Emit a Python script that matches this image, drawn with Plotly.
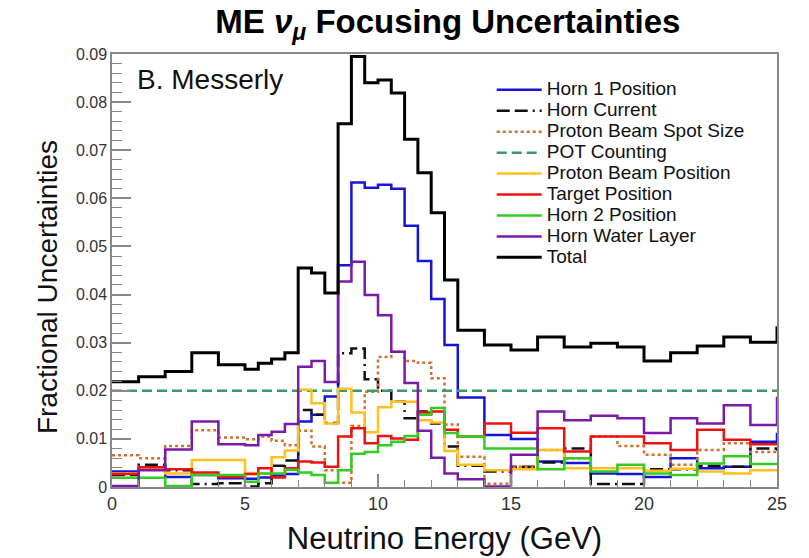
import plotly.graph_objects as go

# bin edges (GeV); last bin (25-26) lies beyond the visible range
edges = [0, 1, 2, 3, 4, 5, 5.5, 6, 6.5, 7, 7.5, 8, 8.5, 9, 9.5, 10, 10.5, 11, 11.5,
         12, 12.5, 13, 14, 15, 16, 17, 18, 19, 20, 21, 22, 23, 24, 25, 26]

horn1_position = [0.0032, 0.0040, 0.0021, 0.0025, 0.0018, 0.0017, 0.0020, 0.0024, 0.0027,
                  0.0136, 0.0150, 0.0188, 0.0461, 0.0633, 0.0622, 0.0628, 0.0620, 0.0543,
                  0.0470, 0.0391, 0.0295, 0.0186, 0.0108, 0.0100, 0.0053, 0.0050, 0.0028,
                  0.0027, 0.0021, 0.0060, 0.0039, 0.0042, 0.0094, 0.0110]
horn_current = [0.0025, 0.0046, 0.0035, 0.0006, 0.0008, 0.0001, 0.0008, 0.0044, 0.0055,
                0.0160, 0.0150, 0.0133, 0.0278, 0.0288, 0.0224, 0.0200, 0.0177, 0.0143,
                0.0157, 0.0132, 0.0084, 0.0044, 0.0032, 0.0042, 0.0051, 0.0080, 0.0006,
                0.0006, 0.0037, 0.0037, 0.0044, 0.0042, 0.0080, 0.0078]
spot_size = [0.0066, 0.0060, 0.0085, 0.0118, 0.0103, 0.0099, 0.0105, 0.0096, 0.0087,
             0.0117, 0.0084, 0.0035, 0.0009, 0.0127, 0.0198, 0.0270, 0.0281, 0.0262,
             0.0258, 0.0226, 0.0130, 0.0063, 0.0007, 0.0042, 0.0077, 0.0060, 0.0105,
             0.0085, 0.0067, 0.0046, 0.0077, 0.0091, 0.0073, 0.0073]
pot_counting = [0.0200] * 34
beam_position = [0.0028, 0.0040, 0.0028, 0.0056, 0.0056, 0.0029, 0.0028, 0.0062, 0.0076,
                 0.0202, 0.0174, 0.0132, 0.0204, 0.0155, 0.0114, 0.0166, 0.0177, 0.0177,
                 0.0139, 0.0134, 0.0075, 0.0046, 0.0035, 0.0037, 0.0077, 0.0039, 0.0039,
                 0.0039, 0.0034, 0.0038, 0.0032, 0.0028, 0.0035, 0.0035]
target_position = [0.0027, 0.0041, 0.0037, 0.0030, 0.0021, 0.0027, 0.0039, 0.0020, 0.0039,
                   0.0053, 0.0051, 0.0042, 0.0105, 0.0122, 0.0091, 0.0106, 0.0101, 0.0098,
                   0.0155, 0.0157, 0.0119, 0.0105, 0.0132, 0.0113, 0.0122, 0.0074, 0.0105,
                   0.0105, 0.0091, 0.0077, 0.0119, 0.0098, 0.0089, 0.0089]
horn2_position = [0.0019, 0.0019, 0.0002, 0.0025, 0.0025, 0.0011, 0.0028, 0.0028, 0.0036,
                  0.0030, 0.0025, 0.0009, 0.0035, 0.0069, 0.0073, 0.0087, 0.0094, 0.0106,
                  0.0150, 0.0164, 0.0112, 0.0105, 0.0080, 0.0080, 0.0037, 0.0060, 0.0032,
                  0.0046, 0.0028, 0.0025, 0.0049, 0.0064, 0.0048, 0.0048]
water_layer = [0.0002, 0.0035, 0.0078, 0.0136, 0.0089, 0.0087, 0.0108, 0.0115, 0.0131,
               0.0250, 0.0262, 0.0218, 0.0427, 0.0468, 0.0399, 0.0357, 0.0281, 0.0216,
               0.0117, 0.0061, 0.0028, 0.0016, 0.0001, 0.0067, 0.0157, 0.0139, 0.0148,
               0.0143, 0.0112, 0.0143, 0.0132, 0.0170, 0.0129, 0.0185]
total = [0.0219, 0.0229, 0.0240, 0.0279, 0.0254, 0.0245, 0.0257, 0.0266, 0.0279,
         0.0455, 0.0445, 0.0403, 0.0755, 0.0895, 0.0840, 0.0846, 0.0819, 0.0723,
         0.0653, 0.0570, 0.0430, 0.0326, 0.0295, 0.0285, 0.0312, 0.0291, 0.0299,
         0.0291, 0.0262, 0.0279, 0.0293, 0.0312, 0.0301, 0.0331]

series = [
    ("Horn 1 Position", horn1_position, "#1515d8", "solid", 2.5),
    ("Horn Current", horn_current, "#111111", "13px,5px,13px,5px,2px,5px", 2.5),
    ("Proton Beam Spot Size", spot_size, "#d07030", "dot", 2.5),
    ("POT Counting", pot_counting, "#3a9a6a", "10px,5px", 2.5),
    ("Proton Beam Position", beam_position, "#ffc020", "solid", 2.5),
    ("Target Position", target_position, "#ee1111", "solid", 2.5),
    ("Horn 2 Position", horn2_position, "#33cc22", "solid", 2.5),
    ("Horn Water Layer", water_layer, "#7a1aa8", "solid", 2.5),
    ("Total", total, "#000000", "solid", 3),
]

fig = go.Figure()
for name, vals, color, dash, width in series:
    fig.add_trace(go.Scatter(
        x=edges, y=list(vals) + [vals[-1]], mode="lines",
        name='<span style="font-size:19px">' + name + "</span>",
        line=dict(shape="hv", color=color, dash=dash, width=width),
    ))

fig.update_layout(
    width=809, height=558,
    margin=dict(l=112, r=32, t=54, b=71),
    paper_bgcolor="white", plot_bgcolor="white",
    font=dict(family="Liberation Sans, Arial, sans-serif", color="#111111"),
    title=dict(text="ME <i>ν</i><sub><i>μ</i></sub> Focusing Uncertainties",
               font=dict(size=33, color="black", family="Liberation Sans, Arial, sans-serif", weight="bold"),
               x=0.505, xref="paper", xanchor="center", y=0.962, yanchor="middle"),
    showlegend=True,
    legend=dict(x=0.571, y=0.953, xanchor="left", yanchor="top", itemwidth=45,
                bgcolor="rgba(0,0,0,0)", font=dict(size=13.8, color="#111111"),
                tracegroupgap=0),
    annotations=[
        dict(text="B. Messerly", x=0.034, y=0.94, xref="paper", yref="paper",
             xanchor="left", yanchor="middle", showarrow=False,
             font=dict(size=28, color="#111111")),
        dict(text="Fractional Uncertainties", x=-0.096, y=0.462, xref="paper", yref="paper",
             xanchor="center", yanchor="middle", showarrow=False, textangle=-90,
             font=dict(size=28, color="#111111")),
    ],
)

fig.update_xaxes(
    range=[0, 25], showline=True, linecolor="#888888", linewidth=1.5, mirror=True,
    ticks="inside", ticklen=13, tickcolor="#888888", tickwidth=1.5, automargin=False,
    tickvals=[0, 5, 10, 15, 20, 25], ticktext=["0", "5", "10", "15", "20", "25"],
    minor=dict(dtick=1, ticks="inside", ticklen=7, tickcolor="#888888", tickwidth=1.2),
    showgrid=False, zeroline=False, tickfont=dict(size=18, color="#333333"),
    title=dict(text="Neutrino Energy (GeV)", font=dict(size=31, color="#111111"), standoff=14),
)
fig.update_yaxes(
    range=[0, 0.09], showline=True, linecolor="#888888", linewidth=1.5, mirror=True,
    ticks="inside", ticklen=19, tickcolor="#888888", tickwidth=1.5, automargin=False,
    tickvals=[0, 0.01, 0.02, 0.03, 0.04, 0.05, 0.06, 0.07, 0.08, 0.09],
    ticktext=["0", "0.01", "0.02", "0.03", "0.04", "0.05", "0.06", "0.07", "0.08", "0.09"],
    minor=dict(dtick=0.002, ticks="inside", ticklen=10, tickcolor="#888888", tickwidth=1.2),
    showgrid=False, zeroline=False, tickfont=dict(size=16, color="#333333"),
)

fig.write_html("out.html")
